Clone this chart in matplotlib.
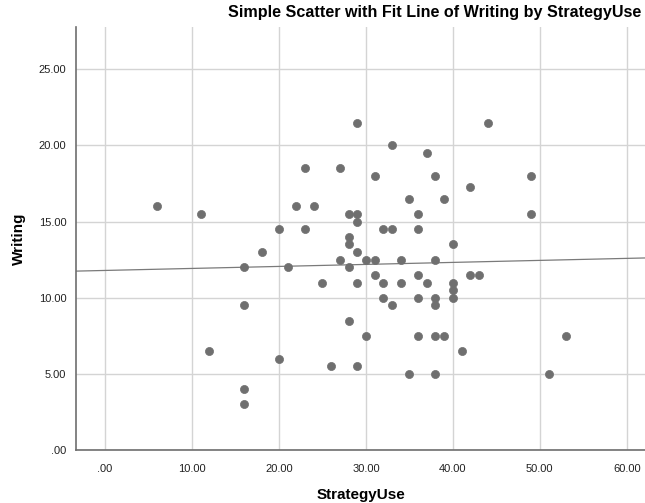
import numpy as np
import matplotlib
matplotlib.use("Agg")
import matplotlib.pyplot as plt
from matplotlib.ticker import FuncFormatter

strategy_use = [6, 11, 12, 16, 16, 16, 16, 18, 20, 20, 21, 22, 23, 23, 24, 25, 26,
                27, 27, 28, 28, 28, 28, 28, 29, 29, 29, 29, 29, 29, 30, 30, 31, 31, 31,
                32, 32, 32, 33, 33, 33, 34, 34, 35, 35, 36, 36, 36, 36, 36, 37, 37,
                38, 38, 38, 38, 38, 38, 39, 39, 40, 40, 40, 40, 41, 42, 42, 43, 44,
                49, 49, 51, 53]
writing = [16, 15.5, 6.5, 12, 9.5, 4, 3, 13, 14.5, 6, 12, 16, 18.5, 14.5, 16, 11, 5.5,
           18.5, 12.5, 15.5, 14, 13.5, 12, 8.5, 21.5, 15.5, 15, 13, 11, 5.5, 12.5, 7.5,
           18, 12.5, 11.5, 14.5, 11, 10, 20, 14.5, 9.5, 12.5, 11, 16.5, 5, 15.5, 14.5,
           11.5, 10, 7.5, 19.5, 11, 18, 12.5, 10, 9.5, 7.5, 5, 16.5, 7.5, 13.5, 11,
           10.5, 10, 6.5, 17.25, 11.5, 11.5, 21.5, 18, 15.5, 5, 7.5]

x_ticks = [0, 10, 20, 30, 40, 50, 60]
y_ticks = [0, 5, 10, 15, 20, 25]

plt.rcParams['font.family'] = ['Liberation Sans', 'DejaVu Sans']

fig = plt.figure(figsize=(6.45, 5.03), dpi=100)
ax = fig.add_axes([76/645, 53/503, (645-76)/645, (450-26.7)/503])

x = np.array(strategy_use, dtype=float)
y = np.array(writing, dtype=float)

xlim = (-3.35, 62.1)
ax.set_xlim(*xlim)
ax.set_ylim(0, 27.8)

ax.set_xticks(x_ticks)
ax.set_yticks(y_ticks)
fmt = FuncFormatter(lambda v, p: (".00" if v == 0 else f"{v:.2f}"))
ax.xaxis.set_major_formatter(fmt)
ax.yaxis.set_major_formatter(fmt)

ax.grid(True, color='#d4d4d4', linewidth=1.0)
ax.set_axisbelow(True)
for s in ['top', 'right']:
    ax.spines[s].set_visible(False)
for s in ['left', 'bottom']:
    ax.spines[s].set_color('#6e6e6e')
    ax.spines[s].set_linewidth(1.2)
ax.tick_params(axis='both', length=0, labelsize=8, colors='#222222')
ax.tick_params(axis='x', pad=10)
ax.tick_params(axis='y', pad=7)

# fit line
b, a = np.polyfit(x, y, 1)
xx = np.array(xlim)
ax.plot(xx, a + b * xx, color='#7a7a7a', linewidth=0.9, zorder=2)

ax.scatter(x, y, s=34, color='#6f6f6f', edgecolors='#6f6f6f', linewidths=0.5, zorder=3)

fig.text(641/645, 1 - 12/503, "Simple Scatter with Fit Line of Writing by StrategyUse",
         ha='right', va='center', fontsize=11.6, fontweight='bold')
ax.set_xlabel("StrategyUse", fontsize=11, fontweight='bold', labelpad=10)
ax.set_ylabel("Writing", fontsize=11, fontweight='bold', labelpad=9)

fig.savefig("out.png", dpi=100)
